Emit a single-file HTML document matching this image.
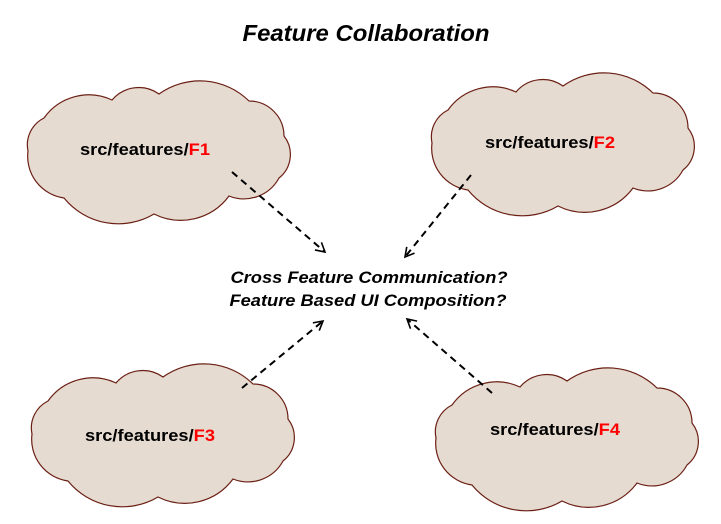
<!DOCTYPE html>
<html><head><style>html,body{margin:0;padding:0;background:#fff;}svg{display:block;}</style></head>
<body>
<svg width="721" height="524" viewBox="0 0 721 524" xmlns="http://www.w3.org/2000/svg">
<defs>
<path id="cloud" d="M 4,75 A 30,30 0 0 1 20,42 A 55,55 0 0 1 88,24 A 35,35 0 0 1 135,18 A 70,70 0 0 1 225,25 A 35,35 0 0 1 260,60 A 30,30 0 0 1 255,102 A 40,40 0 0 1 205,120 A 60,60 0 0 1 130,138 A 70,70 0 0 1 40,122 A 42,42 0 0 1 4,75 Z" fill="#e6dbd1" stroke="#6b1f14" stroke-width="1.2"/>
<marker id="ah" markerWidth="12" markerHeight="12" refX="10" refY="6" orient="auto" markerUnits="userSpaceOnUse">
<path d="M1,1 L10,6 L1,11" fill="none" stroke="#000" stroke-width="1.6"/>
</marker>
</defs>
<text x="366" y="41" text-anchor="middle" font-family="Liberation Sans, sans-serif" font-size="23" font-weight="bold" font-style="italic" textLength="247" lengthAdjust="spacingAndGlyphs">Feature Collaboration</text>

<g transform="translate(24,76)"><use href="#cloud"/></g>
<g transform="translate(428,68)"><use href="#cloud"/></g>
<g transform="translate(28,359)"><use href="#cloud"/></g>
<g transform="translate(432,363)"><use href="#cloud"/></g>

<g font-family="Liberation Sans, sans-serif" font-size="17" font-weight="bold" text-anchor="middle">
<text x="145" y="155" textLength="130" lengthAdjust="spacingAndGlyphs">src/features/<tspan fill="#ff0000">F1</tspan></text>
<text x="550" y="148" textLength="130" lengthAdjust="spacingAndGlyphs">src/features/<tspan fill="#ff0000">F2</tspan></text>
<text x="150" y="441" textLength="130" lengthAdjust="spacingAndGlyphs">src/features/<tspan fill="#ff0000">F3</tspan></text>
<text x="555" y="435" textLength="130" lengthAdjust="spacingAndGlyphs">src/features/<tspan fill="#ff0000">F4</tspan></text>
</g>

<g stroke="#000" stroke-width="2" stroke-dasharray="7,5" fill="none" marker-end="url(#ah)">
<line x1="232" y1="172" x2="325" y2="252"/>
<line x1="471" y1="175" x2="405" y2="257"/>
<line x1="242" y1="388" x2="323" y2="321"/>
<line x1="492" y1="393" x2="407" y2="319"/>
</g>

<g font-family="Liberation Sans, sans-serif" font-size="17" font-weight="bold" font-style="italic" text-anchor="middle">
<text x="369" y="283" textLength="277" lengthAdjust="spacingAndGlyphs">Cross Feature Communication?</text>
<text x="368" y="306" textLength="277" lengthAdjust="spacingAndGlyphs">Feature Based UI Composition?</text>
</g>
</svg>
</body></html>
